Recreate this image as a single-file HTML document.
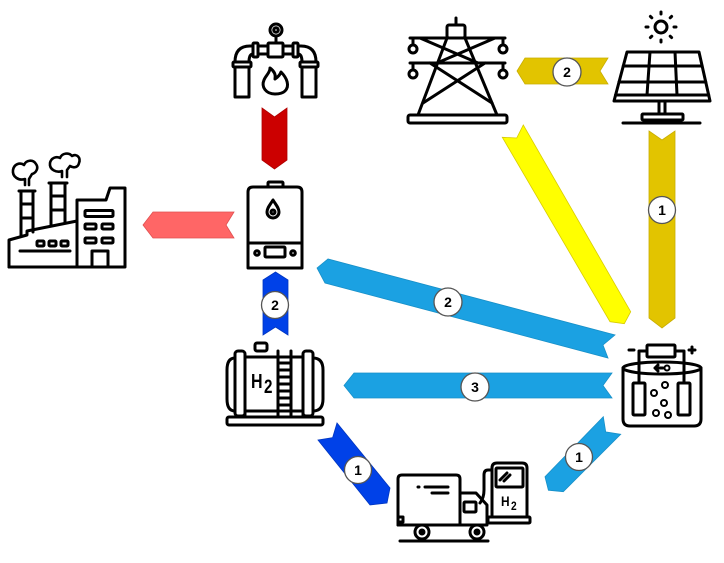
<!DOCTYPE html>
<html><head><meta charset="utf-8"><style>
html,body{margin:0;padding:0;background:#fff;}
svg{display:block;}
.ic{fill:none;stroke:#000;stroke-width:3;stroke-linejoin:round;stroke-linecap:round;}
.b{fill:#fff;stroke:#555;stroke-width:1.3;}
.n{font-family:"Liberation Sans",sans-serif;font-weight:bold;font-size:14px;fill:#000;text-anchor:middle;}
</style></head><body>
<svg width="724" height="563" viewBox="0 0 724 563" xmlns="http://www.w3.org/2000/svg">
<rect width="724" height="563" fill="#fff"/>

<!-- ARROWS -->
<polygon points="262,108 274.5,117 287,108 287,160 274.5,169 262,160" fill="#cc0000" stroke="#b00000" stroke-width="0.8"/>
<polygon points="143,225 153,212 234,212 226,225 234,238 153,238" fill="#ff6666" stroke="#e05050" stroke-width="0.8"/>
<polygon points="517,71 525,58 608,58 600,71 608,84 525,84" fill="#e2c400" stroke="#c9ae00" stroke-width="0.8"/>
<polygon points="649,131 662,140 675,131 675,318 662,328 649,318" fill="#e2c400" stroke="#c9ae00" stroke-width="0.8"/>
<polygon points="502.3,137.3 516.7,138 523.3,125 630.7,311.7 624.3,323.7 610,321.7" fill="#ffff00" stroke="#d8cc00" stroke-width="0.8"/>
<polygon points="317,268 328,259 615,335 603,345 608,358 325,283" fill="#1ba1e2" stroke="#1890c8" stroke-width="0.8"/>
<polygon points="344,385.5 354,373 612,373 603,385.5 612,398 354,398" fill="#1ba1e2" stroke="#1890c8" stroke-width="0.8"/>
<polygon points="275.5,272 288,280 288,335 275.5,327 263,335 263,280" fill="#0041e8" stroke="#0036c0" stroke-width="0.8"/>
<polygon points="318,440 332.6,437.7 337,423 390,488 387,503 370,505" fill="#0041e8" stroke="#0036c0" stroke-width="0.8"/>
<polygon points="603.3,416.7 605.7,431.9 620.7,434.3 563.3,491.7 548.4,490.2 545,476.7" fill="#1ba1e2" stroke="#1890c8" stroke-width="0.8"/>

<!-- badges -->
<circle class="b" cx="567" cy="72" r="14"/><text class="n" x="567" y="77">2</text>
<circle class="b" cx="662" cy="210" r="13.5"/><text class="n" x="662" y="215">1</text>
<circle class="b" cx="448" cy="302" r="14"/><text class="n" x="448" y="307">2</text>
<circle class="b" cx="475" cy="387" r="14"/><text class="n" x="475" y="392">3</text>
<circle class="b" cx="275" cy="305" r="13.5"/><text class="n" x="275" y="310">2</text>
<circle class="b" cx="358" cy="470" r="13.5"/><text class="n" x="358" y="475">1</text>
<circle class="b" cx="579" cy="457" r="13.5"/><text class="n" x="579" y="462">1</text>

<!-- FACTORY -->
<g class="ic">
<path d="M9,267 H125 V188 H110 L106,200 H77 V267"/>
<path d="M9,267 V240 L27,235 V231 L77,221"/>
<path d="M21,236 V191 M33,232 V191 M19,191 H35 M21,204 H33 M21,218 H33"/>
<path d="M51,226 V183 M65,223 V183 M49,183 H67 M51,196 H65 M51,210 H65"/>
<path d="M25,185 V179 C19,181 12,177 13,170 C14,164 20,162 24,165 C26,160 33,159 36,164 C39,168 36,173 32,174 L29,179 V185" stroke-width="2.6"/>
<path d="M62,177 V171 C57,173 49,170 50,163 C51,158 56,156 60,158 C62,153 69,152 72,156 C77,153 81,158 79,163 C78,168 73,168 70,166 L67,170 V177" stroke-width="2.6"/>
<rect x="37" y="241" width="7" height="5" rx="1"/>
<rect x="49" y="241" width="7" height="5" rx="1"/>
<rect x="61" y="241" width="7" height="5" rx="1"/>
<path d="M20,251 H70"/>
<rect x="85" y="210.5" width="28" height="6" rx="1"/>
<rect x="85" y="224" width="11" height="5" rx="1"/>
<rect x="102" y="224" width="11" height="5" rx="1"/>
<rect x="85" y="238" width="11" height="5" rx="1"/>
<rect x="102" y="238" width="11" height="5" rx="1"/>
<path d="M92,267 V251 H108 V267"/>
</g>

<!-- PIPE / GAS -->
<g class="ic" stroke-width="2.6">
<circle cx="276" cy="30" r="6"/><circle cx="276" cy="30" r="2.3"/>
<path d="M276,36 V43"/>
<rect x="268" y="43" width="15" height="14" rx="1"/>
<path d="M258,46 H268 M258,54 H268 M283,46 H293 M283,54 H293"/>
<rect x="253" y="43" width="5" height="14" rx="1"/>
<rect x="293" y="43" width="5" height="14" rx="1"/>
<path d="M253,46 H250 Q235,46 235,62 M253,54 Q249,54 249,62"/>
<path d="M298,46 H301 Q316,46 316,62 M298,54 Q302,54 302,62"/>
<rect x="233" y="62" width="18" height="5" rx="1"/>
<rect x="300" y="62" width="18" height="5" rx="1"/>
<path d="M235,67 V97 H249 V67 M302,67 V97 H316 V67"/>
<path d="M275,94 C266,94 261,87 264,80 C266,75 270,73 270,68 C274,71 276,75 275,79 C278,77 280,75 281,72 C287,78 290,86 285,91 C283,93 279,94 275,94 Z"/>
</g>

<!-- BOILER -->
<g class="ic" stroke-width="2.6">
<rect x="268" y="182" width="15" height="5" rx="1"/>
<path d="M248,192 Q248,187 253,187 H297 Q302,187 302,192 V268 H248 Z"/>
<path d="M273,200 C270,205 267,208 267,212 A6,6 0 0 0 279,212 C279,208 276,205 273,200 Z"/>
<circle cx="273" cy="212" r="2"/>
<path d="M248,243 H302"/>
<rect x="265" y="247" width="20" height="10" rx="1"/>
<circle cx="257" cy="253" r="2.3"/><circle cx="293" cy="253" r="2.3"/>
</g>

<!-- TOWER -->
<g class="ic" stroke-width="2.6">
<path d="M456,18 V25"/>
<rect x="447" y="25" width="18" height="13" rx="2"/>
<path d="M410,38 H505 M410,63 H505"/>
<path d="M413,38 V45 M503,38 V45 M413,63 V70 M503,63 V70"/>
<circle cx="413" cy="49" r="4"/><circle cx="503" cy="49" r="4"/>
<circle cx="413" cy="74" r="4"/><circle cx="503" cy="74" r="4"/>
<path d="M447,38 L418,115 M465,38 L497,115"/>
<path d="M420,38 L478,63 M495,38 L437,63"/>
<path d="M430,63 L492,103 M485,63 L423,103"/>
<rect x="408" y="115" width="99" height="8" rx="2"/>
</g>

<!-- SOLAR -->
<g class="ic" stroke-width="2.6">
<circle cx="661" cy="27" r="6"/>
<path d="M661,12 V14 M661,40 V42 M646,27 H648 M674,27 H676 M650.4,16.4 L651.8,17.8 M670.2,36.2 L671.6,37.6 M671.6,16.4 L670.2,17.8 M651.8,36.2 L650.4,37.6"/>
<path d="M627,52 H699 L710,101 H614 Z"/>
<path d="M623.3,66 H702.1 M619,82 H705.7 M615.6,95 H708.7"/>
<path d="M650,52 L647,95 M675,52 L677,95"/>
<path d="M659,101 V114 M665,101 V114"/>
<rect x="642" y="114" width="41" height="6" rx="1"/>
<path d="M623,123 H700"/>
</g>

<!-- H2 TANK -->
<g class="ic" stroke-width="2.6">
<rect x="255" y="343" width="12" height="8" rx="2"/>
<path d="M245,357 H303 M245,411 H303"/>
<path d="M235,358 Q227,358 227,370 V399 Q227,411 235,411"/>
<rect x="235" y="351" width="10" height="65" rx="3"/>
<rect x="303" y="351" width="10" height="65" rx="3"/>
<path d="M313,358 Q323,358 323,370 V399 Q323,411 313,411"/>
<path d="M278,351 V416 M291,351 V416"/>
<path d="M278,363 H291 M278,370 H291 M278,377 H291 M278,384 H291 M278,391 H291 M278,398 H291 M278,405 H291"/>
<path d="M245,411 V417 M303,411 V417"/>
<rect x="227" y="417" width="96" height="8" rx="2"/>
</g>
<text transform="translate(251,388) scale(0.8,1)" font-family="Liberation Sans,sans-serif" font-weight="bold" font-size="20" fill="#000">H</text>
<text transform="translate(264,393) scale(0.8,1)" font-family="Liberation Sans,sans-serif" font-weight="bold" font-size="19" fill="#000">2</text>

<!-- ELECTROLYZER -->
<g class="ic" stroke-width="2.6">
<rect x="647" y="345" width="28" height="12" rx="1"/>
<path d="M647,351 H639 V383 M675,351 H684 V383"/>
<path d="M629,350 H634 M689,350 H695 M692,347 V353"/>
<ellipse cx="662" cy="368" rx="39" ry="6"/>
<path d="M623,368 V419 Q623,426 630,426 H694 Q701,426 701,419 V368"/>
<rect x="633" y="383" width="12" height="32" rx="1"/>
<rect x="678" y="383" width="12" height="32" rx="1"/>
<path d="M663,368 H655 M658,365 L655,368 L658,371"/>
<circle cx="667" cy="368" r="2.5" stroke-width="2"/>
<g stroke-width="2"><circle cx="665" cy="385" r="3"/><circle cx="654" cy="393" r="3"/><circle cx="664" cy="403" r="3"/><circle cx="656" cy="413" r="3"/><circle cx="668" cy="415" r="3"/></g>
</g>

<!-- TRUCK + PUMP -->
<g class="ic" stroke-width="2.6">
<path d="M398,525 V479 Q398,475 402,475 H456 Q460,475 460,479 V525"/>
<path d="M460,493 H476 L487,505 V525 H398"/>
<rect x="464" y="502" width="12" height="10" rx="1"/>
<rect x="398" y="517" width="5" height="5"/>
<circle cx="422" cy="532" r="7" fill="#fff"/><circle cx="422" cy="532" r="2" fill="#000"/>
<circle cx="477" cy="532" r="7" fill="#fff"/><circle cx="477" cy="532" r="2" fill="#000"/>
<path d="M400,541 H488"/>
<path d="M418,487 H419 M425,487 H448 M432,493 H448"/>
<path d="M492,517 V468 Q492,463 497,463 H522 Q527,463 527,468 V517"/>
<rect x="496" y="468" width="27" height="19" rx="1"/>
<path d="M500,480 L507,473 M504,481 L510,475"/>
<rect x="488" y="517" width="42" height="6" rx="1"/>
<path d="M492,470 H488 Q484,470 484,475 V490 Q484,498 480,503"/>
</g>
<text transform="translate(501,506) scale(0.85,1)" font-family="Liberation Sans,sans-serif" font-weight="bold" font-size="14" fill="#000">H</text>
<text transform="translate(511,510) scale(0.85,1)" font-family="Liberation Sans,sans-serif" font-weight="bold" font-size="12" fill="#000">2</text>
</svg>
</body></html>
